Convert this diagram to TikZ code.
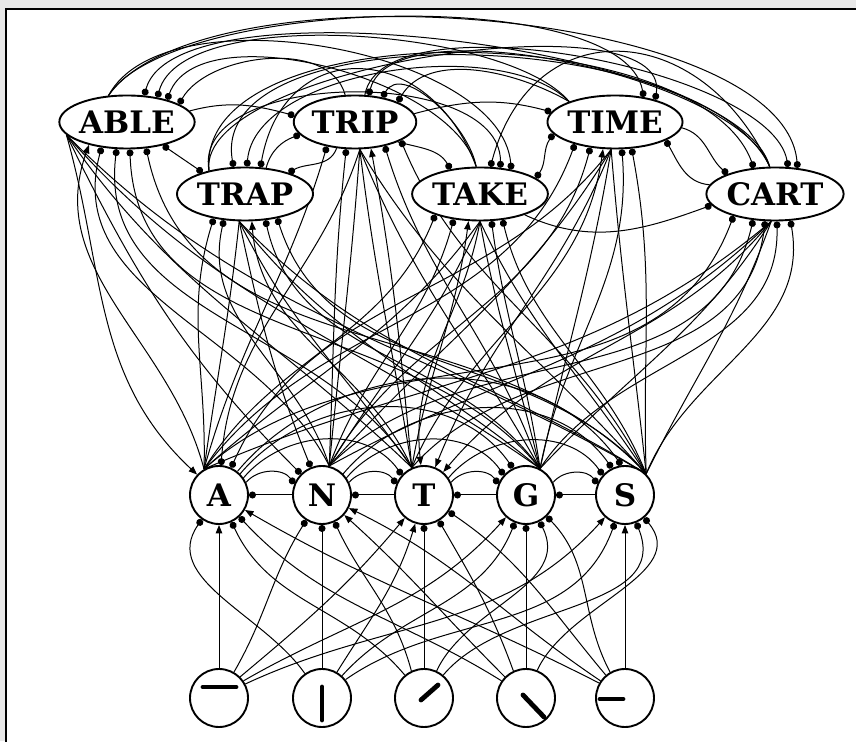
\documentclass[tikz,border=0pt]{standalone}
\usepackage{fontspec}
\setmainfont{DejaVu Serif}
\usetikzlibrary{arrows.meta,calc,shapes.geometric}
\pgfdeclarelayer{bgl}
\pgfdeclarelayer{linel}
\pgfsetlayers{bgl,linel,main}
\newcommand\wf{\fontsize{31}{32}\selectfont\bfseries}
\tikzset{
  conn/.style={line width=1pt},
  excite/.style={conn,-{Triangle[length=8.5pt,width=6.5pt]}},
  inhibit/.style={conn,-{Circle[length=7pt]}},
  inhibtwo/.style={conn,{Circle[length=7pt]}-{Circle[length=7pt]}},
  word/.style={ellipse,draw,line width=1.9pt,minimum width=122pt,minimum height=53pt,inner sep=0pt,fill=white,font=\wf},
  letter/.style={circle,draw,line width=1.9pt,minimum size=58pt,inner sep=0pt,fill=white,font=\wf},
  feat/.style={circle,draw,line width=1.9pt,minimum size=58pt,inner sep=0pt,fill=white},
  featbar/.style={line width=4.8pt,line cap=round}
}
% letter fan -> word bottom
\newcommand\LW[4]{\draw[#1] let \p1=(#2), \p2=(#3.#4), \n1={atan2(\y2-\y1,\x2-\x1)} in (\p1) to[out={(3*\n1+90)/4}, in={270+(#4-270)/3}] (\p2);}
% word -> letter with marker
\newcommand\WLm[5]{\draw[#1] let \p1=(#2.#3), \p2=(#4.#5), \n1={atan2(\y2-\y1,\x2-\x1)} in (\p1) to[out={(3*\n1-90)/4}, in=#5] (\p2);}
% word -> letter fan, no marker
\newcommand\WLf[3]{\draw[conn] let \p1=(#1.#2), \p2=(#3), \n1={atan2(\y2-\y1,\x2-\x1)} in (\p1) to[out={(3*\n1-90)/4}, in={\n1+180}] (\p2);}
\begin{document}
\begin{tikzpicture}[x=1pt,y=1pt]
\useasboundingbox (0,0) rectangle (856,741);
\begin{pgfonlayer}{bgl}
\fill[black!9] (0,0) rectangle (856,741);
\draw[line width=1.3pt,fill=white] (6,732) rectangle (890,-40);
\end{pgfonlayer}
% word nodes
\node[word] (ABLE) at (127,619) {ABLE};
\node[word] (TRIP) at (355,619) {TRIP};
\node[word] (TIME) at (615,619) {TIME};
\node[word] (TRAP) at (245,547) {TRAP};
\node[word] (TAKE) at (480,547) {TAKE};
\node[word] (CART) at (775,547) {CART};
% letter nodes
\node[letter] (A) at (219,246) {A};
\node[letter] (N) at (322,246) {N};
\node[letter] (T) at (424,246) {T};
\node[letter] (G) at (526,246) {G};
\node[letter] (S) at (625,246) {S};
% feature nodes
\node[feat] (F1) at (219,43) {};
\node[feat] (F2) at (322,43) {};
\node[feat] (F3) at (424,43) {};
\node[feat] (F4) at (526,43) {};
\node[feat] (F5) at (625,43) {};
\draw[featbar] ($(F1)+(-16,11)$) -- ($(F1)+(17,11)$);
\draw[featbar] ($(F2)+(0,11)$) -- ($(F2)+(0,-22)$);
\draw[featbar] ($(F3)+(-3,-2)$) -- ($(F3)+(14,13)$);
\draw[featbar] ($(F4)+(-3,3)$) -- ($(F4)+(18,-19)$);
\draw[featbar] ($(F5)+(-25,-1)$) -- ($(F5)+(-2,-1)$);
% fans
\coordinate (fA) at (A.120);
\coordinate (fN) at (N.76);
\coordinate (fT) at (T.114);
\coordinate (fG) at (G.62);
\coordinate (fS) at (S.45);
\begin{pgfonlayer}{linel}
% ---------- features -> letters
\draw[excite] (F1.90) -- (A.270);
\draw[inhibit] (F2.125) to[out=125,in=235] (A.235);
\draw[inhibit] (F3.130) to[out=130,in=295] (A.295);
\draw[inhibit] (F4.145) to[out=148,in=313] (A.313);
\draw[excite] (F5.150) to[out=153,in=330] (A.330);
\draw[inhibit] (F1.60) to[out=60,in=238] (N.238);
\draw[inhibit] (F2.90) -- (N.270);
\draw[inhibit] (F3.115) to[out=105,in=295] (N.295);
\draw[excite] (F4.135) to[out=135,in=318] (N.318);
\draw[excite] (F5.145) to[out=146,in=334] (N.334);
\draw[excite] (F1.45) to[out=40,in=230] (T.230);
\draw[excite] (F2.60) to[out=58,in=253] (T.253);
\draw[inhibit] (F3.90) -- (T.270);
\draw[inhibit] (F4.115) to[out=110,in=300] (T.300);
\draw[inhibit] (F5.130) to[out=130,in=326] (T.326);
\draw[excite] (F1.35) to[out=30,in=228] (G.228);
\draw[inhibit] (F2.48) to[out=48,in=248] (G.248);
\draw[inhibit] (F3.65) to[out=65,in=297] (G.297);
\draw[inhibit] (F4.90) -- (G.270);
\draw[inhibit] (F5.120) to[out=118,in=314] (G.314);
\draw[excite] (F1.28) to[out=25,in=228] (S.228);
\draw[inhibit] (F2.38) to[out=35,in=250] (S.250);
\draw[inhibit] (F3.50) to[out=50,in=292] (S.292);
\draw[inhibit] (F4.68) to[out=65,in=310] (S.310);
\draw[excite] (F5.90) -- (S.270);
% ---------- letter <-> letter
\foreach \i/\j in {N/A,T/N,G/T,S/G} \draw[inhibit] (\i) -- (\j);
\foreach \i/\j/\s/\e in {A/N/25/158,N/T/25/158,T/G/25/158,G/S/25/158,A/T/35/138,N/G/35/138,T/S/35/138,A/G/45/116,N/S/45/116,A/S/52/97}
  \draw[inhibit] (\i.\s) to[out=50,in=125] (\j.\e);
% ---------- letters -> words
\LW{excite}{fA}{ABLE}{211}
\LW{inhibit}{fN}{ABLE}{225}
\LW{inhibit}{fT}{ABLE}{249}
\LW{inhibit}{fG}{ABLE}{276}
\LW{inhibit}{fS}{ABLE}{306}
\LW{inhibit}{fA}{TRIP}{221}
\LW{inhibit}{fN}{TRIP}{252}
\LW{excite}{fT}{TRIP}{301}
\LW{inhibit}{fG}{TRIP}{321}
\LW{inhibit}{fS}{TRIP}{338}
\LW{inhibit}{fA}{TRAP}{218}
\LW{inhibit}{fN}{TRAP}{231}
\LW{excite}{fT}{TRAP}{284}
\LW{inhibit}{fG}{TRAP}{308}
\LW{inhibit}{fS}{TRAP}{323}
\LW{inhibit}{fA}{TAKE}{205}
\LW{inhibit}{fN}{TAKE}{224}
\LW{excite}{fT}{TAKE}{247}
\LW{inhibit}{fG}{TAKE}{293}
\LW{inhibit}{fS}{TAKE}{311}
\LW{inhibit}{fA}{TIME}{209}
\LW{inhibit}{fN}{TIME}{226}
\LW{excite}{fT}{TIME}{246}
\LW{inhibit}{fG}{TIME}{284}
\LW{inhibit}{fS}{TIME}{302}
\LW{inhibit}{fA}{CART}{208}
\LW{inhibit}{fN}{CART}{230}
\LW{inhibit}{fT}{CART}{250}
\LW{inhibit}{fG}{CART}{274}
\LW{inhibit}{fS}{CART}{300}
% ---------- words -> letters
\WLm{excite}{ABLE}{192}{A}{137}
\WLm{inhibit}{TRIP}{280}{A}{86}
\WLm{inhibit}{TIME}{262}{A}{66}
\WLm{inhibit}{ABLE}{192}{N}{135}
\WLm{inhibit}{TRAP}{258}{N}{112}
\WLm{excite}{TAKE}{270}{T}{96}
\WLm{excite}{TIME}{262}{T}{68}
\WLm{excite}{CART}{262}{T}{50}
\WLf{TRAP}{258}{fA}
\WLf{TAKE}{270}{fA}
\WLf{CART}{262}{fA}
\WLf{TRIP}{280}{fN}
\WLf{TAKE}{270}{fN}
\WLf{TIME}{262}{fN}
\WLf{CART}{262}{fN}
\WLf{ABLE}{192}{fT}
\WLf{TRAP}{258}{fT}
\WLf{TRIP}{280}{fT}
\foreach \w/\a in {ABLE/192,TRAP/258,TRIP/280,TAKE/270,TIME/262,CART/262} {
  \WLf{\w}{\a}{fG}
  \WLf{\w}{\a}{fS}
}
% ---------- word <-> word
\draw[inhibit] (ABLE.10) to[out=15,in=165] (TRIP.174);
\draw[inhibtwo] (ABLE.327) -- (TRAP.153);
\draw[inhibit] (ABLE.125) to[out=62,in=95,looseness=0.75] (TAKE.38);
\draw[inhibit] (ABLE.125) to[out=58,in=100,looseness=0.55] (TIME.41);
\draw[inhibit] (ABLE.125) to[out=55,in=95,looseness=0.6] (CART.49);
\draw[inhibit] (TRIP.110) to[out=105,in=60,looseness=0.9] (ABLE.19);
\draw[inhibit] (TRIP.235) to[out=250,in=30] (TRAP.26);
\draw[inhibit] (TRIP.335) to[out=-15,in=120] (TAKE.140);
\draw[inhibit] (TRIP.8) to[out=15,in=165] (TIME.171);
\draw[inhibit] (TRIP.70) to[out=80,in=100,looseness=0.6] (CART.64);
\draw[inhibit] (TRAP.51) to[out=75,in=200] (TRIP.193);
\draw[inhibit] (TRAP.147) to[out=100,in=90,looseness=0.9] (TAKE.52);
\draw[inhibit] (TRAP.147) to[out=97,in=80,looseness=0.6] (TIME.29);
\draw[inhibit] (TRAP.147) to[out=95,in=110,looseness=0.75] (CART.129);
\draw[inhibit] (TAKE.98) to[out=105,in=70,looseness=0.75] (ABLE.29);
\draw[inhibit] (TAKE.98) to[out=100,in=60,looseness=0.9] (TRIP.42);
\draw[inhibit] (TAKE.98) to[out=110,in=80,looseness=1.6] (TRAP.60);
\draw[inhibtwo] (TAKE.16) to[out=55,in=235] (TIME.191);
\draw[inhibit] (TAKE.335) to[out=-25,in=200] (CART.190);
\draw[inhibit] (TIME.156) to[out=130,in=75,looseness=0.6] (ABLE.39);
\draw[inhibit] (TIME.156) to[out=150,in=60,looseness=0.9] (TRIP.25);
\draw[inhibit] (TIME.156) to[out=135,in=85,looseness=0.75] (TRAP.86);
\draw[inhibit] (TIME.355) to[out=-15,in=140] (CART.157);
\draw[inhibit] (CART.101) to[out=105,in=75,looseness=0.5] (ABLE.57);
\draw[inhibit] (CART.101) to[out=110,in=75,looseness=0.6] (TRIP.63);
\draw[inhibit] (CART.101) to[out=115,in=100,looseness=0.75] (TRAP.113);
\draw[inhibit] (CART.101) to[out=115,in=75,looseness=1.5] (TAKE.69);
\draw[inhibit] (CART.172) to[out=175,in=300] (TIME.340);
\end{pgfonlayer}
\end{tikzpicture}
\end{document}
